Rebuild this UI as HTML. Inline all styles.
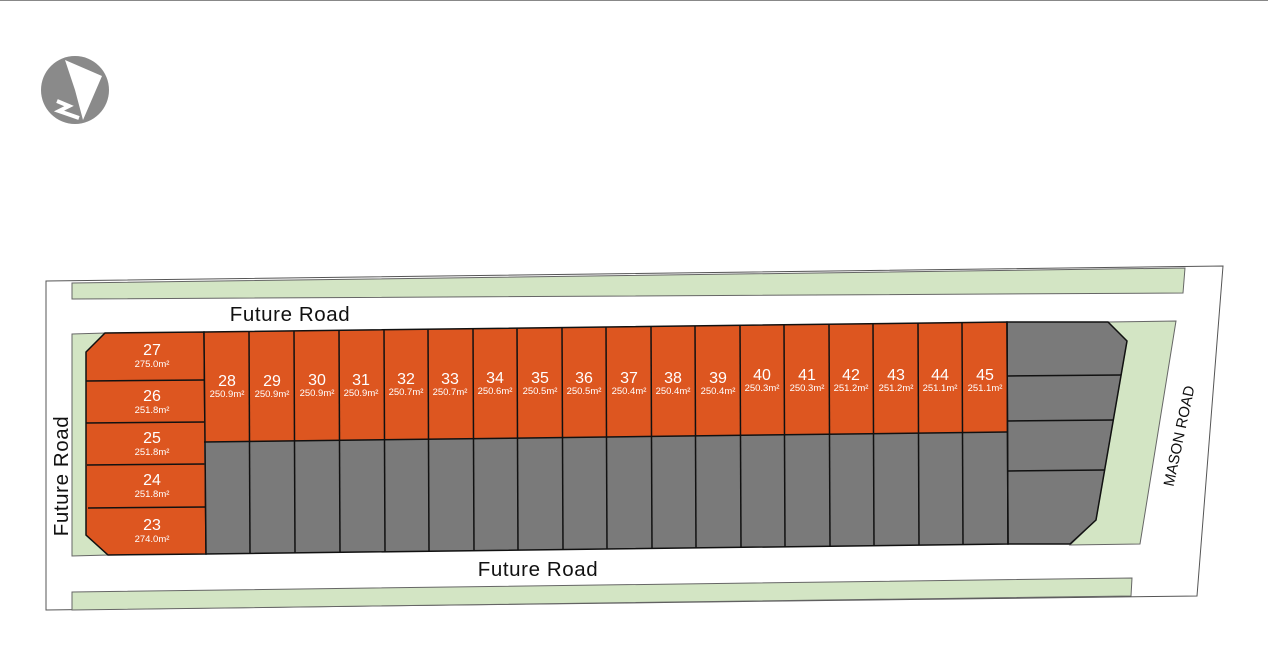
<!DOCTYPE html>
<html><head><meta charset="utf-8"><style>
html,body{margin:0;padding:0;background:#fff;}
svg{display:block;}
text{font-family:"Liberation Sans",sans-serif;}
.n{fill:#fff;font-size:16px;text-anchor:middle;}
.a{fill:#fff;font-size:9.5px;text-anchor:middle;}
.r{fill:#111;font-size:20.5px;text-anchor:middle;letter-spacing:0.6px;}
</style></head><body>
<svg width="1268" height="669" viewBox="0 0 1268 669" xmlns="http://www.w3.org/2000/svg">
<line x1="0" y1="0.5" x2="1268" y2="0.5" stroke="#888" stroke-width="1"/>
<!-- compass -->
<circle cx="75" cy="90" r="34" fill="#8a8a8a"/>
<polygon points="65,60 102,76 83,120 75,90" fill="#fff"/>
<polyline points="57,101 69,106 59,111 79,118" fill="none" stroke="#fff" stroke-width="4" stroke-linejoin="miter"/>
<!-- outer boundary -->
<polygon points="46,281 1223,266 1197,596 46,610" fill="#fff" stroke="#555" stroke-width="1"/>
<!-- green strips -->
<polygon points="72,283 1185,268 1183,293 72,299" fill="#d3e5c4" stroke="#666" stroke-width="1"/>
<polygon points="72,592 1132,578 1131,596 72,610" fill="#d3e5c4" stroke="#666" stroke-width="1"/>
<polygon points="72,334 105,333 86,352 86,535 108,555 72,556" fill="#d3e5c4" stroke="#666" stroke-width="1"/>
<polygon points="1108,322 1176,321 1140,544 1070,545 1096,520 1127,341" fill="#d3e5c4" stroke="#666" stroke-width="1"/>
<!-- left block -->
<polygon points="105,333 204,332 206,554 108,555 86,535 86,352" fill="#dd5620" stroke="#111" stroke-width="1.5"/>
<g stroke="#111" stroke-width="1.5">
<line x1="86" y1="381" x2="204" y2="380"/>
<line x1="86" y1="423" x2="205" y2="422"/>
<line x1="87" y1="465" x2="205" y2="464"/>
<line x1="88" y1="508" x2="206" y2="507"/>
</g>
<text class="n" x="152" y="355">27</text><text class="a" x="152" y="367">275.0m²</text>
<text class="n" x="152" y="401">26</text><text class="a" x="152" y="413">251.8m²</text>
<text class="n" x="152" y="443">25</text><text class="a" x="152" y="455">251.8m²</text>
<text class="n" x="152" y="485">24</text><text class="a" x="152" y="497">251.8m²</text>
<text class="n" x="152" y="530">23</text><text class="a" x="152" y="542">274.0m²</text>
<!-- main strip -->
<polygon points="204,332 1007,322 1007,432 204,442" fill="#dd5620"/>
<polygon points="204,442 1007,432 1008,544 206,554" fill="#7a7a7a"/>
<!-- right block -->
<polygon points="1007,322 1108,322 1127,341 1096,520 1070,544 1008,544" fill="#7a7a7a" stroke="#111" stroke-width="1.5"/>
<g stroke="#111" stroke-width="1.5" fill="none">
<line x1="1007" y1="376" x2="1121" y2="375"/>
<line x1="1007" y1="421" x2="1113" y2="420"/>
<line x1="1008" y1="471" x2="1104" y2="470"/>
<polygon points="204,332 1007,322 1008,544 206,554"/>
<line x1="204" y1="442" x2="1007" y2="432"/>
<line x1="249" y1="331.5" x2="250" y2="553.5"/>
<line x1="294" y1="331" x2="295" y2="553"/>
<line x1="339" y1="330.4" x2="340" y2="552.4"/>
<line x1="384" y1="329.8" x2="385" y2="551.8"/>
<line x1="428" y1="329.3" x2="429" y2="551.3"/>
<line x1="473" y1="328.7" x2="474" y2="550.7"/>
<line x1="517" y1="328.2" x2="518" y2="550.2"/>
<line x1="562" y1="327.6" x2="563" y2="549.6"/>
<line x1="606" y1="327.1" x2="607" y2="549.1"/>
<line x1="651" y1="326.5" x2="652" y2="548.5"/>
<line x1="695" y1="326" x2="696" y2="548"/>
<line x1="740" y1="325.5" x2="741" y2="547.5"/>
<line x1="784" y1="324.9" x2="785" y2="546.9"/>
<line x1="829" y1="324.4" x2="830" y2="546.4"/>
<line x1="873" y1="323.8" x2="874" y2="545.8"/>
<line x1="918" y1="323.3" x2="919" y2="545.3"/>
<line x1="962" y1="322.8" x2="963" y2="544.8"/>
</g>
<text class="n" x="227" y="386">28</text><text class="a" x="227" y="397">250.9m²</text>
<text class="n" x="272" y="386">29</text><text class="a" x="272" y="397">250.9m²</text>
<text class="n" x="317" y="385">30</text><text class="a" x="317" y="396">250.9m²</text>
<text class="n" x="361" y="385">31</text><text class="a" x="361" y="396">250.9m²</text>
<text class="n" x="406" y="384">32</text><text class="a" x="406" y="395">250.7m²</text>
<text class="n" x="450" y="384">33</text><text class="a" x="450" y="395">250.7m²</text>
<text class="n" x="495" y="383">34</text><text class="a" x="495" y="394">250.6m²</text>
<text class="n" x="540" y="383">35</text><text class="a" x="540" y="394">250.5m²</text>
<text class="n" x="584" y="383">36</text><text class="a" x="584" y="394">250.5m²</text>
<text class="n" x="629" y="383">37</text><text class="a" x="629" y="394">250.4m²</text>
<text class="n" x="673" y="383">38</text><text class="a" x="673" y="394">250.4m²</text>
<text class="n" x="718" y="383">39</text><text class="a" x="718" y="394">250.4m²</text>
<text class="n" x="762" y="380">40</text><text class="a" x="762" y="391">250.3m²</text>
<text class="n" x="807" y="380">41</text><text class="a" x="807" y="391">250.3m²</text>
<text class="n" x="851" y="380">42</text><text class="a" x="851" y="391">251.2m²</text>
<text class="n" x="896" y="380">43</text><text class="a" x="896" y="391">251.2m²</text>
<text class="n" x="940" y="380">44</text><text class="a" x="940" y="391">251.1m²</text>
<text class="n" x="985" y="380">45</text><text class="a" x="985" y="391">251.1m²</text>
<!-- road labels -->
<text class="r" x="290" y="321">Future Road</text>
<text class="r" x="538" y="576">Future Road</text>
<text class="r" transform="translate(68,476) rotate(-90)">Future Road</text>
<text fill="#111" font-size="15" text-anchor="middle" transform="translate(1184,437) rotate(-78)">MASON ROAD</text>
</svg>
</body></html>
